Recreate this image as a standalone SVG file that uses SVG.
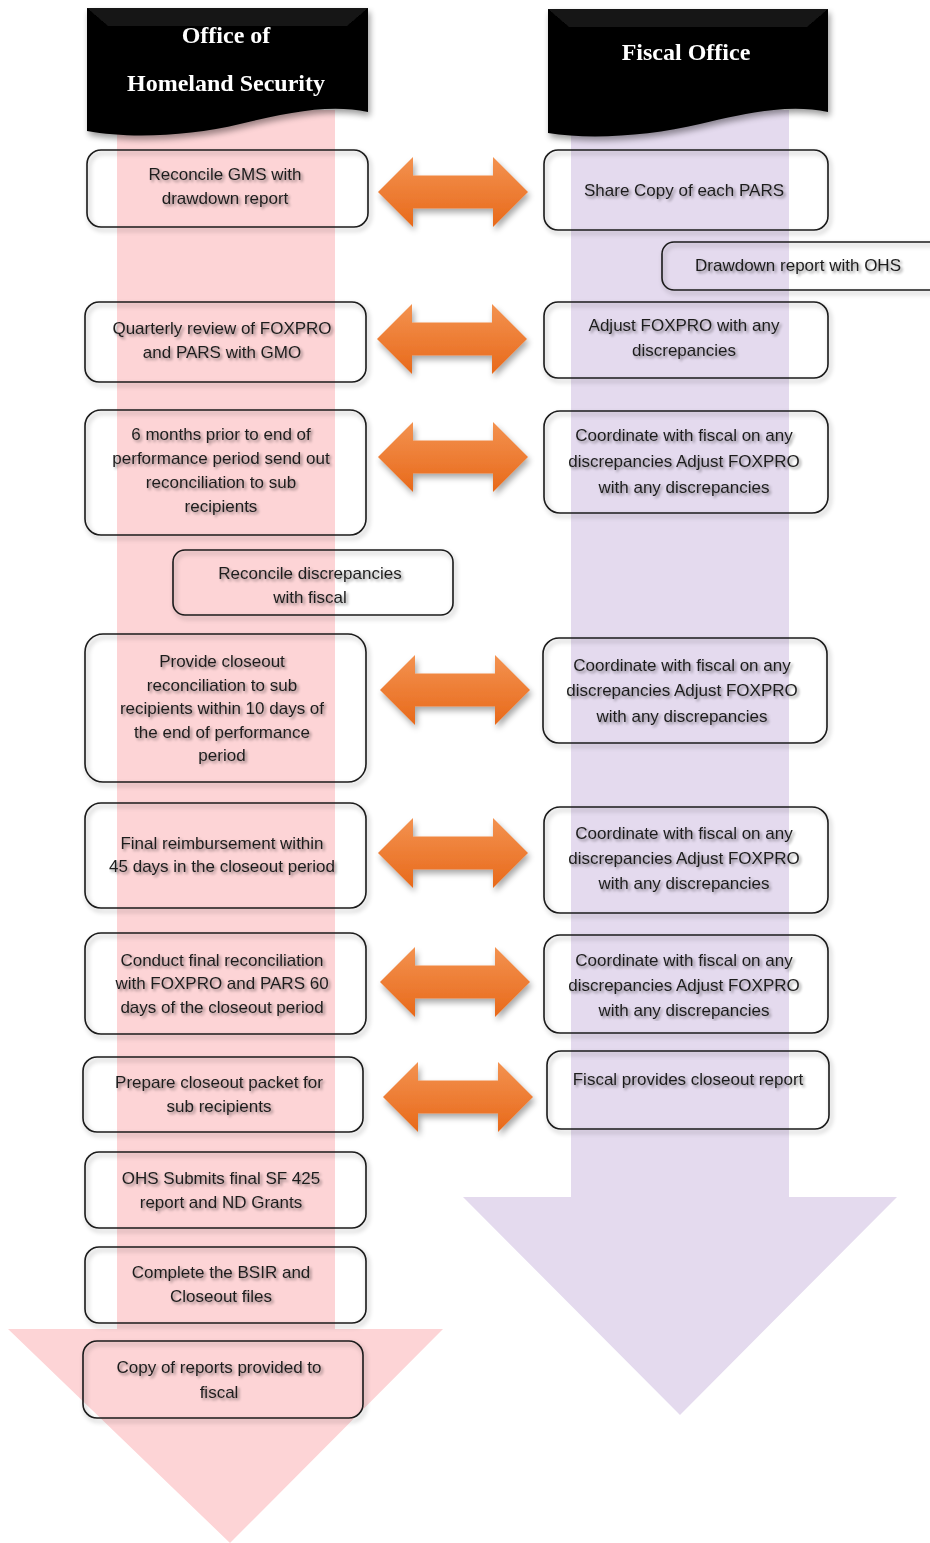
<svg xmlns="http://www.w3.org/2000/svg" width="930" height="1543" viewBox="0 0 930 1543">
<style>
.box{fill:none;stroke:#1a1a1a;stroke-width:1.6;filter:url(#bs)}
.t{font-family:"Liberation Sans",Arial,sans-serif;font-size:17px;fill:#1e1e1e;text-anchor:middle;filter:url(#ts)}
.h{font-family:"Liberation Serif","Times New Roman",serif;font-weight:bold;font-size:24px;fill:#fff;text-anchor:middle}
.arr{fill:url(#og);filter:url(#as)}
.hd{fill:#000}
.bev{fill:#161616}
</style>
<defs>
<linearGradient id="og" x1="0" y1="0" x2="0" y2="1">
<stop offset="0" stop-color="#F39250"/>
<stop offset="1" stop-color="#E8691A"/>
</linearGradient>
<filter id="bs" x="-10%" y="-20%" width="125%" height="150%">
<feGaussianBlur in="SourceAlpha" stdDeviation="2.5"/>
<feOffset dx="2" dy="3" result="b"/>
<feComponentTransfer><feFuncA type="linear" slope="0.35"/></feComponentTransfer>
<feMerge><feMergeNode/><feMergeNode in="SourceGraphic"/></feMerge>
</filter>
<filter id="ts" x="-10%" y="-40%" width="120%" height="180%">
<feGaussianBlur in="SourceAlpha" stdDeviation="1.6"/>
<feOffset dx="1.5" dy="2"/>
<feComponentTransfer><feFuncA type="linear" slope="0.45"/></feComponentTransfer>
<feMerge><feMergeNode/><feMergeNode in="SourceGraphic"/></feMerge>
</filter>
<filter id="as" x="-20%" y="-30%" width="140%" height="170%">
<feGaussianBlur in="SourceAlpha" stdDeviation="3"/>
<feOffset dx="2" dy="4"/>
<feComponentTransfer><feFuncA type="linear" slope="0.35"/></feComponentTransfer>
<feMerge><feMergeNode/><feMergeNode in="SourceGraphic"/></feMerge>
</filter>
<filter id="hs" x="-10%" y="-10%" width="120%" height="130%">
<feGaussianBlur in="SourceAlpha" stdDeviation="3"/>
<feOffset dx="2" dy="4"/>
<feComponentTransfer><feFuncA type="linear" slope="0.4"/></feComponentTransfer>
<feMerge><feMergeNode/><feMergeNode in="SourceGraphic"/></feMerge>
</filter>
<path id="dbl" d="M0,0 L35,-35 L35,-16.5 L115,-16.5 L115,-35 L150,0 L115,35 L115,16.5 L35,16.5 L35,35 Z"/>
<clipPath id="clip7"><rect x="540" y="930" width="300" height="91"/></clipPath>
</defs>
<rect width="930" height="1543" fill="#fff"/>
<g id="lanes">
<path id="lane-ohs" d="M117,110 H335 V1329 H443 L230,1543 L8,1329 H117 Z" fill="#FDD4D6"/>
<path id="lane-fiscal" d="M571,110 H789 V1197 H897 L680,1415 L463,1197 H571 Z" fill="#E4DAEE"/>
</g>
<g id="header-ohs" filter="url(#hs)">
<path class="hd" d="M87,8 H368 V112 C330,104 290,112 240,124 C190,136 130,139 87,131 Z"/>
<path class="bev" d="M87,8 L108,26 H347 L368,8 Z"/>
<text class="h" x="226" y="43">Office of</text>
<text class="h" x="226" y="91">Homeland Security</text>
</g>
<g id="header-fiscal" filter="url(#hs)">
<path class="hd" d="M548,9 H828 V112 C790,104 750,112 700,124 C650,136 590,140 548,133 Z"/>
<path class="bev" d="M548,9 L569,27 H807 L828,9 Z"/>
<text class="h" x="686" y="60">Fiscal Office</text>
</g>
<g id="connectors">
<use href="#dbl" class="arr" x="378" y="192"/>
<use href="#dbl" class="arr" x="377" y="339"/>
<use href="#dbl" class="arr" x="378" y="457"/>
<use href="#dbl" class="arr" x="380" y="690"/>
<use href="#dbl" class="arr" x="378" y="853"/>
<use href="#dbl" class="arr" x="380" y="982"/>
<use href="#dbl" class="arr" x="383" y="1097"/>
</g>
<g id="ohs1"><rect class="box" x="87" y="150" width="281" height="77" rx="14"/>
<text class="t" x="225" y="180">Reconcile GMS with</text><text class="t" x="225" y="204">drawdown report</text></g>
<g id="ohs2"><rect class="box" x="85" y="302" width="281" height="80" rx="14"/>
<text class="t" x="222" y="334">Quarterly review of FOXPRO</text><text class="t" x="222" y="358">and PARS with GMO</text></g>
<g id="ohs3"><rect class="box" x="85" y="410" width="281" height="125" rx="16"/>
<text class="t" x="221" y="440">6 months prior to end of</text><text class="t" x="221" y="464">performance period send out</text><text class="t" x="221" y="488">reconciliation to sub</text><text class="t" x="221" y="512">recipients</text></g>
<g id="ohs4"><rect class="box" x="173" y="550" width="280" height="65" rx="12"/>
<text class="t" x="310" y="579">Reconcile discrepancies</text><text class="t" x="310" y="603">with fiscal</text></g>
<g id="ohs5"><rect class="box" x="85" y="634" width="281" height="148" rx="18"/>
<text class="t" x="222" y="667">Provide closeout</text><text class="t" x="222" y="691">reconciliation to sub</text><text class="t" x="222" y="714">recipients within 10 days of</text><text class="t" x="222" y="738">the end of performance</text><text class="t" x="222" y="761">period</text></g>
<g id="ohs6"><rect class="box" x="85" y="803" width="281" height="105" rx="16"/>
<text class="t" x="222" y="849">Final reimbursement within</text><text class="t" x="222" y="872">45 days in the closeout period</text></g>
<g id="ohs7"><rect class="box" x="85" y="933" width="281" height="101" rx="16"/>
<text class="t" x="222" y="966">Conduct final reconciliation</text><text class="t" x="222" y="989">with FOXPRO and PARS 60</text><text class="t" x="222" y="1013">days of the closeout period</text></g>
<g id="ohs8"><rect class="box" x="83" y="1057" width="280" height="75" rx="14"/>
<text class="t" x="219" y="1088">Prepare closeout packet for</text><text class="t" x="219" y="1112">sub recipients</text></g>
<g id="ohs9"><rect class="box" x="85" y="1152" width="281" height="76" rx="14"/>
<text class="t" x="221" y="1184">OHS Submits final SF 425</text><text class="t" x="221" y="1208">report and ND Grants</text></g>
<g id="ohs10"><rect class="box" x="85" y="1247" width="281" height="76" rx="14"/>
<text class="t" x="221" y="1278">Complete the BSIR and</text><text class="t" x="221" y="1302">Closeout files</text></g>
<g id="ohs11"><rect class="box" x="83" y="1341" width="280" height="77" rx="14"/>
<text class="t" x="219" y="1373">Copy of reports provided to</text><text class="t" x="219" y="1398">fiscal</text></g>
<g id="fis1"><rect class="box" x="544" y="150" width="284" height="80" rx="14"/>
<text class="t" x="684" y="196">Share Copy of each PARS</text></g>
<g id="fis2"><rect class="box" x="662" y="242" width="290" height="48" rx="12"/>
<text class="t" x="798" y="271">Drawdown report with OHS</text></g>
<g id="fis3"><rect class="box" x="544" y="302" width="284" height="76" rx="14"/>
<text class="t" x="684" y="331">Adjust FOXPRO with any</text><text class="t" x="684" y="356">discrepancies</text></g>
<g id="fis4"><rect class="box" x="544" y="411" width="284" height="102" rx="16"/>
<text class="t" x="684" y="441">Coordinate with fiscal on any</text><text class="t" x="684" y="467">discrepancies Adjust FOXPRO</text><text class="t" x="684" y="493">with any discrepancies</text></g>
<g id="fis5"><rect class="box" x="543" y="638" width="284" height="105" rx="16"/>
<text class="t" x="682" y="671">Coordinate with fiscal on any</text><text class="t" x="682" y="696">discrepancies Adjust FOXPRO</text><text class="t" x="682" y="722">with any discrepancies</text></g>
<g id="fis6"><rect class="box" x="544" y="807" width="284" height="106" rx="16"/>
<text class="t" x="684" y="839">Coordinate with fiscal on any</text><text class="t" x="684" y="864">discrepancies Adjust FOXPRO</text><text class="t" x="684" y="889">with any discrepancies</text></g>
<g id="fis7"><rect class="box" x="544" y="935" width="284" height="98" rx="16"/>
<g clip-path="url(#clip7)"><text class="t" x="684" y="966">Coordinate with fiscal on any</text><text class="t" x="684" y="991">discrepancies Adjust FOXPRO</text><text class="t" x="684" y="1016">with any discrepancies</text></g></g>
<g id="fis8"><rect class="box" x="547" y="1051" width="282" height="78" rx="14"/>
<text class="t" x="688" y="1085">Fiscal provides closeout report</text></g>
</svg>
